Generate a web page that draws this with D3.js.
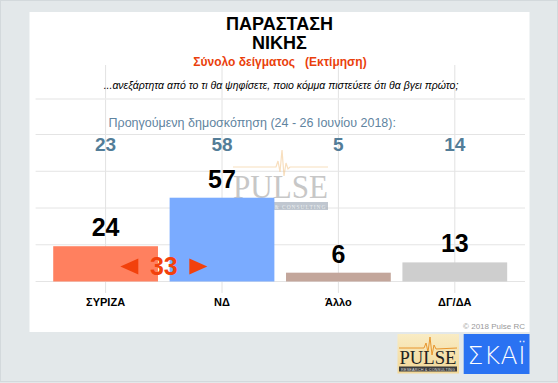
<!DOCTYPE html>
<html><head><meta charset="utf-8">
<script src="https://cdn.jsdelivr.net/npm/d3@7"></script>
<style>html,body{margin:0;padding:0;background:#fff;}svg{display:block;}</style>
</head><body>
<svg id="c" width="558" height="383"></svg>
<script>
const categories = ["ΣΥΡΙΖΑ", "ΝΔ", "Άλλο", "ΔΓ/ΔΑ"];
const values = [24, 57, 6, 13];
const previous = [23, 58, 5, 14];
const barColors = ["#ff805f", "#7aabff", "#c3a69b", "#cecece"];
const yTicks = [0, 25, 50, 75, 100];
const titleLines = ["ΠΑΡΑΣΤΑΣΗ", "ΝΙΚΗΣ"];
const subtitle = "Σύνολο δείγματος   (Εκτίμηση)";
const question = "...ανεξάρτητα από το τι θα ψηφίσετε, ποιο κόμμα πιστεύετε ότι θα βγει πρώτο;";
const prevLabel = "Προηγούμενη δημοσκόπηση (24 - 26 Ιουνίου 2018):";
const copyright = "© 2018 Pulse RC";

const svg = d3.select("#c");
const F = "'Liberation Sans', Arial, sans-serif";

// background frame
svg.append("rect").attr("x",0).attr("y",0).attr("width",558).attr("height",383).attr("fill","#e3e8ea");
svg.append("rect").attr("x",0.5).attr("y",0.5).attr("width",557).attr("height",381).attr("fill","none").attr("stroke","#d3d9dc");
svg.append("rect").attr("x",29.5).attr("y",12).attr("width",500).attr("height",320).attr("fill","#ffffff");

const x = d3.scaleBand().domain(categories).range([47.4, 513]).paddingInner(0.1).paddingOuter(0.05);
const y = d3.scaleLinear().domain([0, 100]).range([281.5, 134.5]);
const cx = d => x(d) + x.bandwidth() / 2;

// titles
svg.append("text").selectAll("tspan").data(titleLines).join("tspan")
  .attr("x", 279.5).attr("y", (d,i) => 30 + i*19)
  .attr("text-anchor","middle").attr("font-family",F).attr("font-weight","bold")
  .attr("font-size",18).attr("fill","#000").text(d => d);
svg.append("text").attr("x",280).attr("y",66).attr("text-anchor","middle")
  .attr("font-family",F).attr("font-weight","bold").attr("font-size",12)
  .attr("fill","#ea3f0c").attr("xml:space","preserve").style("white-space","pre").text(subtitle);

// vertical lines
svg.append("g").selectAll("line").data(categories).join("line")
  .attr("x1", cx).attr("x2", cx).attr("y1", 65).attr("y2", 293)
  .attr("stroke","#e2e2e2").attr("stroke-width",1);

// question
svg.append("text").attr("x",281).attr("y",89).attr("text-anchor","middle")
  .attr("font-family",F).attr("font-style","italic").attr("font-size",10.5)
  .attr("fill","#000").text(question);
svg.append("line").attr("x1",35.6).attr("x2",525).attr("y1",99).attr("y2",99)
  .attr("stroke","#ececec").attr("stroke-width",1.5);

svg.append("text").attr("x",108.5).attr("y",126.5)
  .attr("font-family",F).attr("font-size",12.5).attr("fill","#5f84a0").text(prevLabel);

// horizontal gridlines
svg.append("g").selectAll("line").data(yTicks).join("line")
  .attr("x1",35.6).attr("x2",525).attr("y1", d => y(d)).attr("y2", d => y(d))
  .attr("stroke","#e4e4e4").attr("stroke-width",1);

// previous values
svg.append("g").selectAll("text").data(previous).join("text")
  .attr("x",(d,i) => cx(categories[i])).attr("y",150.5).attr("text-anchor","middle")
  .attr("font-family",F).attr("font-weight","bold").attr("font-size",19).attr("fill","#537d98").text(d => d);

// watermark
const wm = svg.append("g").attr("opacity",0.55);
wm.append("path").attr("d","M233,167 L276,167 L278,161 L280,172 L282,150 L284,176 L286,163 L288,169 L290,167 L328,167")
  .attr("fill","none").attr("stroke","#f3c58a").attr("stroke-width",1.2);
wm.append("text").attr("x",280.5).attr("y",198).attr("text-anchor","middle")
  .attr("font-family","'Liberation Serif', serif").attr("font-size",33).attr("fill","#9a9a9a")
  .attr("textLength",95).attr("lengthAdjust","spacingAndGlyphs").text("PULSE");
wm.append("rect").attr("x",233).attr("y",202).attr("width",95).attr("height",8).attr("fill","#8e9aaa");
wm.append("text").attr("x",280.5).attr("y",208.5).attr("text-anchor","middle")
  .attr("font-family","'Liberation Serif', serif").attr("font-size",5.5).attr("fill","#dfe3e8")
  .attr("textLength",90).text("RESEARCH & CONSULTING");

// bars
svg.append("g").selectAll("rect").data(values).join("rect")
  .attr("x",(d,i) => x(categories[i])).attr("width", x.bandwidth())
  .attr("y", d => y(d)).attr("height", d => y(0) - y(d))
  .attr("fill",(d,i) => barColors[i]);

// value labels
svg.append("g").selectAll("text").data(values).join("text")
  .attr("x",(d,i) => cx(categories[i])).attr("y", d => y(d) - 10)
  .attr("text-anchor","middle").attr("font-family",F).attr("font-weight","bold")
  .attr("font-size",25).attr("fill","#000").text(d => d);

// difference between first two
const diff = values[1] - values[0];
const mx = (cx(categories[0]) + cx(categories[1])) / 2;
const my = 266.5;
const dg = svg.append("g").attr("fill","#f2410c");
dg.append("text").attr("x",mx).attr("y",my + 8.5).attr("text-anchor","middle")
  .attr("font-family",F).attr("font-weight","bold").attr("font-size",25).text(diff);
dg.append("path").attr("d",`M${mx-43.5},${my} L${mx-25.5},${my-8} L${mx-25.5},${my+8} Z`);
dg.append("path").attr("d",`M${mx+43.5},${my} L${mx+25.5},${my-8} L${mx+25.5},${my+8} Z`);

// category labels
svg.append("g").selectAll("text").data(categories).join("text")
  .attr("x", d => cx(d)).attr("y",306).attr("text-anchor","middle")
  .attr("font-family",F).attr("font-weight","bold").attr("font-size",11).attr("fill","#000").text(d => d);

svg.append("text").attr("x",525).attr("y",328.5).attr("text-anchor","end")
  .attr("font-family",F).attr("font-size",8).attr("fill","#999").text(copyright);

// logos
const pl = svg.append("g");
const grad = svg.append("defs").append("linearGradient").attr("id","pg").attr("x1",0).attr("x2",0).attr("y1",0).attr("y2",1);
grad.append("stop").attr("offset","0").attr("stop-color","#f9ecc4");
grad.append("stop").attr("offset","1").attr("stop-color","#f2d898");
pl.append("rect").attr("x",397.5).attr("y",334).attr("width",61.5).attr("height",39.5).attr("fill","url(#pg)");
pl.append("path").attr("d","M399,348 L424,348 L426,343 L428,352 L430,337 L432,355 L434,345 L436,349 L457,348")
  .attr("fill","none").attr("stroke","#e8962e").attr("stroke-width",1);
pl.append("text").attr("x",428).attr("y",364).attr("text-anchor","middle")
  .attr("font-family","'Liberation Serif', serif").attr("font-size",19).attr("fill","#222")
  .attr("textLength",57).attr("lengthAdjust","spacingAndGlyphs").text("PULSE");
pl.append("rect").attr("x",399).attr("y",366.5).attr("width",58).attr("height",5).attr("fill","#3b3b3b");
pl.append("text").attr("x",428).attr("y",370.8).attr("text-anchor","middle")
  .attr("font-family",F).attr("font-size",3.8).attr("fill","#ddd").attr("textLength",54).text("RESEARCH & CONSULTING");
svg.append("rect").attr("x",463.7).attr("y",334).attr("width",65.8).attr("height",40).attr("fill","#2a72f2");
svg.append("text").attr("x",496.5).attr("y",364).attr("text-anchor","middle")
  .attr("font-family","'DejaVu Sans', sans-serif").attr("font-weight","200").attr("font-size",25)
  .attr("fill","#fff").attr("textLength",58).text("ΣΚΑΪ");
</script>
</body></html>
